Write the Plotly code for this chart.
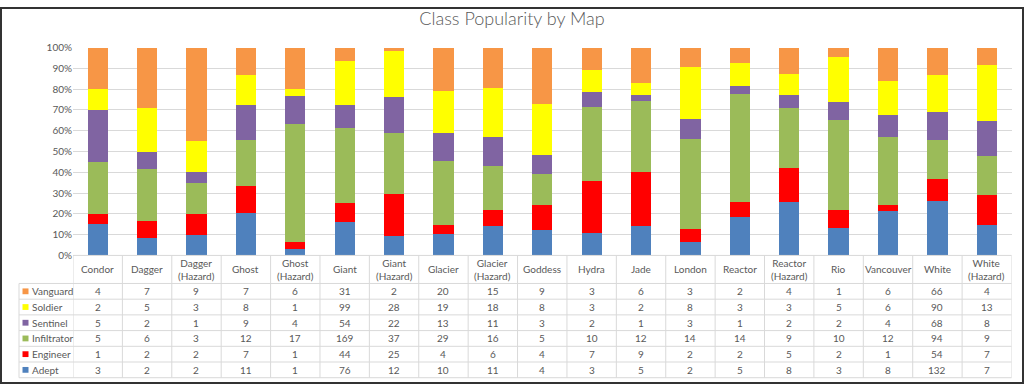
import plotly.graph_objects as go

maps = ["Condor", "Dagger", "Dagger<br>(Hazard)", "Ghost", "Ghost<br>(Hazard)", "Giant",
        "Giant<br>(Hazard)", "Glacier", "Glacier<br>(Hazard)", "Goddess", "Hydra", "Jade",
        "London", "Reactor", "Reactor<br>(Hazard)", "Rio", "Vancouver", "White", "White<br>(Hazard)"]

vanguard    = [4, 7, 9, 7, 6, 31, 2, 20, 15, 9, 3, 6, 3, 2, 4, 1, 6, 66, 4]
soldier     = [2, 5, 3, 8, 1, 99, 28, 19, 18, 8, 3, 2, 8, 3, 3, 5, 6, 90, 13]
sentinel    = [5, 2, 1, 9, 4, 54, 22, 13, 11, 3, 2, 1, 3, 1, 2, 2, 4, 68, 8]
infiltrator = [5, 6, 3, 12, 17, 169, 37, 29, 16, 5, 10, 12, 14, 14, 9, 10, 12, 94, 9]
engineer    = [1, 2, 2, 7, 1, 44, 25, 4, 6, 4, 7, 9, 2, 2, 5, 2, 1, 54, 7]
adept       = [3, 2, 2, 11, 1, 76, 12, 10, 11, 4, 3, 5, 2, 5, 8, 3, 8, 132, 7]

# bottom-to-top stacking order
series = [("Adept", adept, "#4F81BD"),
          ("Engineer", engineer, "#FF0000"),
          ("Infiltrator", infiltrator, "#9BBB59"),
          ("Sentinel", sentinel, "#8064A2"),
          ("Soldier", soldier, "#FFFF00"),
          ("Vanguard", vanguard, "#F79646")]
# table row order (top to bottom)
table_rows = list(reversed(series))

W, H = 1024, 390
px = lambda x: x / W
py = lambda y: 1 - y / H

TXT = "#595959"
GRID = "#d9d9d9"
FONT = "Lato"

xs = list(range(len(maps)))
fig = go.Figure()
for name, vals, col in series:
    fig.add_trace(go.Bar(x=xs, y=vals, name=name, marker=dict(color=col, line=dict(width=0)),
                         showlegend=False, hoverinfo="skip"))

plot_left, plot_right = 73, 1011.5
plot_top, plot_bottom = 42, 257

fig.update_layout(
    width=W, height=H,
    margin=dict(l=0, r=0, t=0, b=0),
    paper_bgcolor="white", plot_bgcolor="white",
    barmode="stack", barnorm="percent", bargap=0.59,
    font=dict(family=FONT, color=TXT, size=10),
    title=dict(text="Class Popularity by Map", x=0.5, xanchor="center", y=py(19), yanchor="middle",
               font=dict(family="Lato Light, Lato", size=18, color=TXT, weight=300)),
    xaxis=dict(domain=[px(plot_left), px(plot_right)], range=[-0.5, len(maps) - 0.5],
               showticklabels=False, showgrid=False, zeroline=False, showline=False, ticks="",
               fixedrange=True),
    yaxis=dict(domain=[py(plot_bottom), py(plot_top)], range=[0, 100], dtick=10, ticksuffix="%",
               showgrid=True, gridcolor=GRID, gridwidth=1, zeroline=False, showline=False,
               tickfont=dict(family=FONT, size=10, color=TXT), ticklen=0, ticks="",
               fixedrange=True),
)

shapes = []
# table geometry
header_top, header_bot = 257, 286
row_h = 16.25
n_rows = len(table_rows)
table_bot = header_bot + n_rows * row_h
leg_left = 19

line = dict(color=GRID, width=1)
# horizontal lines
shapes.append(dict(type="line", xref="paper", yref="paper", x0=px(plot_left), x1=px(plot_right),
                   y0=py(header_top), y1=py(header_top), line=line))
for i in range(n_rows + 1):
    y = header_bot + i * row_h
    shapes.append(dict(type="line", xref="paper", yref="paper", x0=px(leg_left), x1=px(plot_right),
                       y0=py(y), y1=py(y), line=line))
# vertical lines
for k in range(len(maps) + 1):
    shapes.append(dict(type="line", xref="x", yref="paper", x0=k - 0.5, x1=k - 0.5,
                       y0=py(header_top), y1=py(table_bot), line=line))
shapes.append(dict(type="line", xref="paper", yref="paper", x0=px(leg_left), x1=px(leg_left),
                   y0=py(header_bot), y1=py(table_bot), line=line))

annotations = []
# header labels
for k, m in enumerate(maps):
    annotations.append(dict(x=k, y=py((header_top + header_bot) / 2), xref="x", yref="paper",
                            text=m, showarrow=False, xanchor="center", yanchor="middle",
                            font=dict(family=FONT, size=10, color=TXT)))
# rows
for r, (name, vals, col) in enumerate(table_rows):
    yc = header_bot + (r + 0.5) * row_h
    shapes.append(dict(type="rect", xref="paper", yref="paper", x0=px(22.5), x1=px(28.5),
                       y0=py(yc + 3), y1=py(yc - 3), fillcolor=col, line=dict(width=0)))
    annotations.append(dict(x=px(29.5), y=py(yc), xref="paper", yref="paper", text=name,
                            showarrow=False, xanchor="left", yanchor="middle",
                            font=dict(family=FONT, size=10, color=TXT)))
    for k, v in enumerate(vals):
        annotations.append(dict(x=k, y=py(yc), xref="x", yref="paper", text=str(v),
                                showarrow=False, xanchor="center", yanchor="middle",
                                font=dict(family=FONT, size=10, color=TXT)))

# outer dark frame
shapes.append(dict(type="rect", xref="paper", yref="paper", x0=px(1), x1=px(1023), y0=py(1), y1=py(389),
                   line=dict(color="#333333", width=2), fillcolor="rgba(0,0,0,0)"))

fig.update_layout(shapes=shapes, annotations=annotations)
fig.write_html("out.html", config={"displayModeBar": False},
               post_script="document.body.style.margin='0';document.body.style.overflow='hidden';")
